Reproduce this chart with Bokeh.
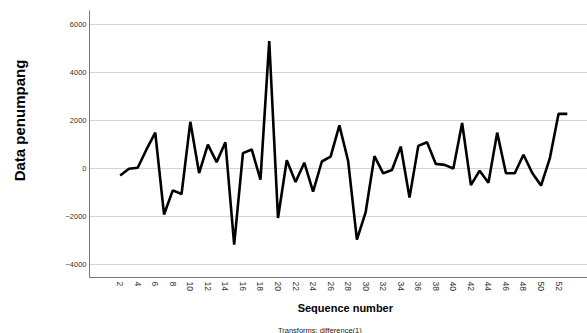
import math
from bokeh.plotting import figure
from bokeh.layouts import row, column
from bokeh.models import FixedTicker, Range1d, Label
from bokeh.embed import file_html
from bokeh.resources import INLINE

seq = list(range(2, 54))
values = [-280, 0, 40, 800, 1500, -1900, -900, -1050, 1950, -180,
          1000, 275, 1100, -3150, 650, 800, -450, 5300, -2050, 350,
          -550, 250, -950, 300, 500, 1800, 320, -2950, -1800, 520,
          -190, -50, 920, -1200, 950, 1100, 200, 160, 10, 1900,
          -680, -80, -580, 1500, -190, -190, 580, -180, -700, 430,
          2280, 2280]
x_ticks = list(range(2, 53, 2))
y_ticks = [-4000, -2000, 0, 2000, 4000, 6000]

FONT = "Liberation Sans"
LEFT_W = 40
MAIN_H = 300
SHIFT = 23


def blank(width, height):
    f = figure(width=width, height=height, output_backend="svg",
               toolbar_location=None, x_axis_location=None,
               y_axis_location=None, x_range=Range1d(0, width),
               y_range=Range1d(0, height), min_border=0)
    f.outline_line_color = None
    f.xgrid.visible = False
    f.ygrid.visible = False
    return f


p = figure(width=587 - LEFT_W, height=MAIN_H, output_backend="svg",
           toolbar_location=None,
           x_range=Range1d(-1.5, 55.3), y_range=Range1d(-4520, 6575),
           min_border_left=89 - LEFT_W, min_border_top=10, min_border_right=0,
           min_border_bottom=MAIN_H - 277)
p.outline_line_color = None
p.background_fill_color = "white"

p.line(seq, values, line_color="black", line_width=2.6)

p.xgrid.visible = False
p.ygrid.grid_line_color = "#d4d4d4"
p.ygrid.grid_line_width = 1
p.ygrid.ticker = FixedTicker(ticks=y_ticks)

p.yaxis.ticker = FixedTicker(ticks=y_ticks)
p.yaxis.major_tick_out = 0
p.yaxis.major_tick_in = 0
p.yaxis.minor_tick_out = 0
p.yaxis.minor_tick_in = 0
p.yaxis.axis_line_color = "#777777"
p.yaxis.major_label_text_font = FONT
p.yaxis.major_label_text_font_size = "7.5px"
p.yaxis.major_label_text_color = "#333333"
p.yaxis.major_label_standoff = 3

p.xaxis.ticker = FixedTicker(ticks=x_ticks)
p.xaxis.major_tick_out = 0
p.xaxis.major_tick_in = 0
p.xaxis.minor_tick_out = 0
p.xaxis.minor_tick_in = 0
p.xaxis.axis_line_color = "#777777"
p.xaxis.major_label_orientation = -math.pi / 2
p.xaxis.major_label_text_font = FONT
p.xaxis.major_label_text_font_size = "8.5px"
p.xaxis.major_label_text_color = "#333333"
p.xaxis.major_label_standoff = 4

left = blank(LEFT_W, 333)
left.add_layout(Label(x=19, y=333 - 120, text="Data penumpang",
                      angle=math.pi / 2, text_align="center",
                      text_baseline="middle", text_font=FONT,
                      text_font_style="bold", text_font_size="15px",
                      text_color="black"))

bottom = blank(587 - LEFT_W, 333 - MAIN_H)
bottom.add_layout(Label(x=344 - LEFT_W - SHIFT, y=333 - 307.5,
                        text="Sequence number", text_align="center",
                        text_baseline="middle", text_font=FONT,
                        text_font_style="bold", text_font_size="11px",
                        text_color="black"))
bottom.add_layout(Label(x=316 - LEFT_W - SHIFT, y=333 - 329.5,
                        text="Transforms: difference(1)", text_align="center",
                        text_baseline="middle", text_font=FONT,
                        text_font_size="7.5px", text_color="#222222"))

layout = row(left, column(p, bottom))

open("out.html", "w").write(file_html(layout, INLINE))
